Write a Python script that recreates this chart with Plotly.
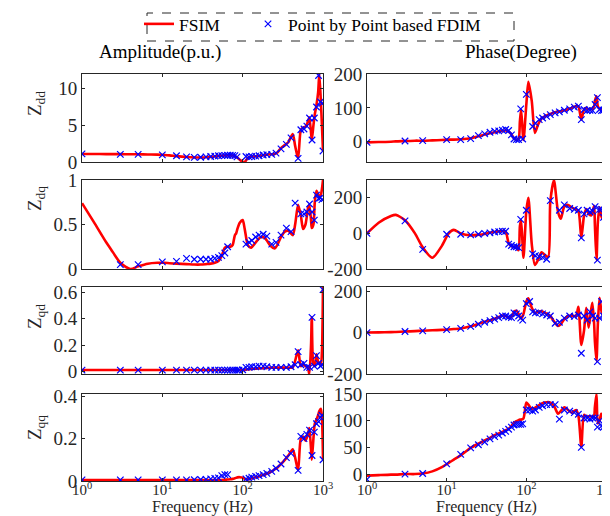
import plotly.graph_objects as go

# ---------------- data ----------------
FREQ_LINE = [1, 1.4, 2, 2.3, 3, 4, 5, 6.6, 8.7, 10.6, 12.3, 15, 20, 25, 30, 35, 40, 45, 50, 55,
             60, 65, 70, 75, 80, 83, 86, 92, 100, 106, 117, 128, 140, 155, 170, 188, 200, 222, 250, 270,
             300, 335, 370, 420, 450, 490, 530, 565, 605, 650, 675, 710, 725, 760, 790, 830, 870, 900, 940, 970,
             1000]
FREQ_PTS = [1, 3, 5, 10, 15, 20, 25, 30, 35, 40, 45, 50, 55, 60, 65, 70, 75, 80, 85, 90,
            100, 110, 120, 130, 145, 160, 180, 200, 230, 260, 300, 350, 400, 450, 490, 530, 580, 630, 680, 730,
            780, 830, 880, 930, 970, 1000]

ZDD_AMP_FSIM = [1.1, 1.1, 1.08, 1.08, 1.07, 1.05, 1.05, 1.02, 1.0, 0.95, 0.9, 0.8, 0.68, 0.62, 0.62, 0.65, 0.7, 0.75, 0.8, 0.85,
                0.88, 0.9, 0.9, 0.88, 0.8, 0.7, 0.6, 0.3, 0.05, 0.02, 0.6, 0.75, 0.75, 0.8, 0.85, 0.95, 1.0, 1.05, 1.1, 1.3,
                1.9, 2.3, 2.7, 3.8, 2.2, 0.5, 4.4, 4.7, 4.8, 5.5, 6.1, 4.0, 3.0, 5.0, 6.5, 7.8, 9.5, 12.0, 8.3, 5.0,
                1.45]
ZDD_AMP_FDIM = [1.1, 1.05, 1.05, 0.98, 0.85, 0.7, 0.62, 0.65, 0.7, 0.75, 0.8, 0.85, 0.88, 0.9, 0.92, 0.92, 0.9, 0.88, 0.7, None,
                None, 0.75, 0.7, 0.75, 0.8, 0.85, 0.95, 1.0, 1.05, 1.2, 1.8, 2.4, 3.3, None, 0.5, 4.4, 4.5, 4.9, 6.0, 3.0,
                6.0, 7.5, 11.8, 8.2, 8.0, 1.5]

ZDD_PH_FSIM = [-2, -1, 0, 1, 2, 3, 3, 4, 5, 6, 6, 7, 10, 16, 21, 25, 28, 30, 32, 33,
               30, 22, 10, 6, 8, 60, 95, 5, 110, 177, 120, 26, 50, 68, 75, 80, 82, 86, 89, 90,
               93, 96, 100, 105, 105, 65, 95, 100, 95, 98, 95, 105, 120, 134, 105, 97, 95, 98, 100, 95,
               -60]
ZDD_PH_FDIM = [-2, 2, 3, 6, 6, 9, 18, 23, 28, 31, 32, 34, 36, 33, 20, 8, 6, 6, 97, 8,
               140, None, 45, 55, 65, 70, 75, 80, 85, 88, 93, 97, 102, 105, 65, 95, 92, 93, 92, 110,
               130, 95, 92, 93, 95, -58]

ZDQ_AMP_FSIM = [0.74, 0.53, 0.3, 0.22, 0.07, 0.0, 0.03, 0.06, 0.07, 0.07, 0.065, 0.06, 0.055, 0.05, 0.05, 0.055, 0.06, 0.07, 0.09, 0.15,
                0.24, 0.25, 0.25, 0.27, 0.38, 0.4, 0.45, 0.52, 0.55, 0.45, 0.26, 0.24, 0.28, 0.33, 0.36, 0.35, 0.32, 0.26, 0.23, 0.27,
                0.36, 0.42, 0.43, 0.38, 0.5, 0.72, 0.6, 0.45, 0.5, 0.68, 0.72, 0.55, 0.46, 0.5, 0.75, 0.88, 0.84, 0.8, 0.83, 0.9,
                1.0]
ZDQ_AMP_FDIM = [None, 0.05, 0.05, 0.08, 0.085, 0.12, 0.11, 0.11, 0.11, 0.11, 0.12, 0.13, 0.15, 0.18, 0.25, None, None, None, None, None,
                None, 0.28, 0.3, 0.32, 0.36, 0.38, 0.39, 0.37, 0.28, 0.3, 0.38, 0.46, 0.42, 0.74, None, 0.62, 0.62, 0.64, 0.73, 0.64,
                0.55, 0.83, 0.79, 0.8, 0.78, None]

ZDQ_PH_FSIM = [0, 60, 98, 104, 74, 0, -78, -137, -70, 0, 20, 0, -11, -8, -3, 5, 8, 12, 14, 10,
               -55, -72, -76, -80, -95, 40, 74, -137, 128, 200, -60, -178, -150, -106, -120, -133, 180, 299, 120, 82,
               150, 160, 146, 135, 128, -25, 100, 137, 110, 101, 120, 155, 50, -151, 60, 146, 100, 82, 140, 119,
               -106]
ZDQ_PH_FDIM = [0, 70, -90, -5, -5, -8, -5, 0, 3, 8, 10, 12, 12, -60, -68, -75, -75, -80, 79, None,
               130, None, -115, -125, -130, -135, -145, 184, None, 130, 160, 140, 135, 130, -25, 110, 130, 120, 125, 150,
               -150, 135, 135, 90, 120, -112]

ZQD_AMP_FSIM = [0.01, 0.01, 0.01, 0.01, 0.01, 0.01, 0.01, 0.01, 0.01, 0.01, 0.01, 0.01, 0.01, 0.01, 0.01, 0.01, 0.01, 0.01, 0.01, 0.01,
                0.01, 0.01, 0.01, 0.01, 0.01, 0.01, 0.01, 0.01, 0.01, 0.012, 0.015, 0.018, 0.02, 0.022, 0.024, 0.025, 0.026, 0.027, 0.028, 0.028,
                0.028, 0.028, 0.028, 0.03, 0.08, 0.16, 0.04, 0.05, 0.04, 0.025, -0.02, 0.2, 0.41, 0.05, 0.04, 0.13, 0.07, 0.06, 0.05, 0.15,
                0.65]
ZQD_AMP_FDIM = [0.01, 0.01, 0.01, 0.01, 0.01, 0.01, 0.01, 0.01, 0.01, 0.01, 0.01, 0.01, 0.01, 0.01, 0.01, 0.01, 0.01, 0.01, 0.01, 0.01,
                0.012, 0.03, 0.03, 0.035, 0.035, 0.04, 0.04, 0.035, 0.03, 0.03, 0.03, 0.03, 0.035, 0.05, 0.15, 0.05, 0.06, 0.03, 0.03, 0.41,
                0.04, 0.12, 0.06, 0.04, 0.05, 0.62]

ZQD_PH_FSIM = [0, 1, 2, 3, 5, 7, 9, 11, 13, 15, 17, 20, 30, 42, 52, 60, 67, 75, 82, 80,
               72, 75, 100, 105, 90, 75, 68, 90, 150, 165, 120, 96, 100, 104, 95, 88, 80, 55, 32, 40,
               65, 80, 82, 80, 125, -60, 10, 120, 24, 110, 144, 40, -40, -136, 40, 168, 110, 88, 152, 120,
               88]
ZQD_PH_FDIM = [0, 5, 8, 14, 20, 30, 40, 50, 58, 65, 72, 80, 80, 75, 72, 95, 90, 80, 70, 60,
               140, 150, 100, 95, 95, 90, 85, 80, 45, 50, 70, 80, 78, 85, -100, 80, 60, 100, 80, 70,
               -140, 70, 150, 80, 75, 70]

ZQQ_AMP_FSIM = [0.005, 0.005, 0.005, 0.005, 0.005, 0.005, 0.005, 0.005, 0.005, 0.005, 0.005, 0.005, 0.005, 0.005, 0.005, 0.005, 0.005, 0.005, 0.005, 0.005,
                0.006, 0.007, 0.008, 0.01, 0.013, 0.015, 0.017, 0.018, 0.016, 0.01, 0.008, 0.012, 0.016, 0.02, 0.025, 0.03, 0.035, 0.042, 0.055, 0.063,
                0.08, 0.1, 0.12, 0.15, 0.11, 0.05, 0.2, 0.21, 0.19, 0.22, 0.25, 0.15, 0.1, 0.2, 0.27, 0.29, 0.31, 0.33, 0.34, 0.3,
                0.1]
ZQQ_AMP_FDIM = [0.005, 0.005, 0.005, 0.005, 0.005, 0.005, 0.006, 0.007, 0.008, 0.01, 0.012, 0.015, 0.025, 0.03, 0.03, None, None, None, None, None,
                None, 0.01, 0.013, 0.018, 0.022, 0.025, 0.03, 0.036, 0.045, 0.06, 0.08, 0.11, 0.13, None, 0.05, 0.21, 0.2, 0.22, 0.24, 0.12,
                0.23, 0.27, 0.28, 0.3, 0.31, 0.1]

ZQQ_PH_FSIM = [-3, -2, -1, -1, 0, 0, 1, 5, 13, 21, 27, 35, 49, 57, 63, 68, 73, 76, 79, 82,
               85, 90, 96, 99, 101, 102, 102, 104, 134, 130, 122, 124, 128, 132, 134, 135, 134, 128, 113, 118,
               125, 120, 115, 120, 110, 51, 111, 108, 108, 108, 108, 110, 125, 150, 95, 100, 113, 108, 105, 108,
               -13]
ZQQ_PH_FDIM = [-10, 0, 1, 19, 37, 49, 55, 60, 66, 70, 73, 77, 80, 84, 88, 92, 93, 93, 93, 94,
               120, 120, 118, 120, 125, 128, 130, 130, 130, 103, 120, 118, 115, 112, 50, 105, 105, 103, 105, 105,
               88, 100, 90, 88, 92, -12]

Y_LABELS = ["Z<sub>dd</sub>", "Z<sub>dq</sub>", "Z<sub>qd</sub>", "Z<sub>qq</sub>"]
X_TICKVALS = [1, 10, 100, 1000]
X_TICKTEXT = ["10<sup>0</sup>", "10<sup>1</sup>", "10<sup>2</sup>", "10<sup>3</sup>"]

# ---------------- layout helpers ----------------
W, H = 610, 516
FONT = "Liberation Serif"
AXC = "#262626"
COL_X = [(74, 315), (359, 598)]
ROW_Y = [(66, 154), (172, 261), (279, 366), (386, 473)]
LABEL_Y = [96, 191, 309, 420]

def fx(p):
    return p / W

def fy(p):
    return 1 - p / H

panels = [
    # row, col, line, points, yrange, tickvals, ticktext
    (0, 0, ZDD_AMP_FSIM, ZDD_AMP_FDIM, [0, 12], [0, 5, 10], ["0", "5", "10"]),
    (0, 1, ZDD_PH_FSIM, ZDD_PH_FDIM, [-60, 200], [0, 100, 200], ["0", "100", "200"]),
    (1, 0, ZDQ_AMP_FSIM, ZDQ_AMP_FDIM, [0, 1], [0, 0.5, 1], ["0", "0.5", "1"]),
    (1, 1, ZDQ_PH_FSIM, ZDQ_PH_FDIM, [-200, 300], [-200, 0, 200], ["-200", "0", "200"]),
    (2, 0, ZQD_AMP_FSIM, ZQD_AMP_FDIM, [-0.02, 0.64], [0, 0.2, 0.4, 0.6], ["0", "0.2", "0.4", "0.6"]),
    (2, 1, ZQD_PH_FSIM, ZQD_PH_FDIM, [-200, 220], [-200, 0, 200], ["-200", "0", "200"]),
    (3, 0, ZQQ_AMP_FSIM, ZQQ_AMP_FDIM, [0, 0.41], [0, 0.2, 0.4], ["0", "0.2", "0.4"]),
    (3, 1, ZQQ_PH_FSIM, ZQQ_PH_FDIM, [-13, 150], [0, 50, 100, 150], ["0", "50", "100", "150"]),
]

fig = go.Figure()
layout = {}
for i, (r, c, line_v, pt_v, yr, tv, tt) in enumerate(panels):
    k = i + 1
    xa = "x" if k == 1 else f"x{k}"
    ya = "y" if k == 1 else f"y{k}"
    fig.add_trace(go.Scatter(
        x=FREQ_LINE, y=line_v, mode="lines", name="FSIM",
        line=dict(color="#FF0000", width=2.6, shape="spline", smoothing=0.7),
        xaxis=xa, yaxis=ya, showlegend=(k == 1), legendwidth=64))
    fig.add_trace(go.Scatter(
        x=FREQ_PTS, y=pt_v, mode="markers", name="Point by Point based FDIM",
        marker=dict(symbol="x-thin", size=6.5, color="#0000FF",
                    line=dict(color="#0000FF", width=1.2)),
        xaxis=xa, yaxis=ya, showlegend=(k == 1)))
    x0, x1 = COL_X[c]
    y0, y1 = ROW_Y[r]
    common = dict(showline=True, linecolor=AXC, linewidth=1, mirror="ticks",
                  ticks="inside", ticklen=3, tickcolor=AXC, tickwidth=1,
                  showgrid=False, zeroline=False)
    layout["xaxis" if k == 1 else f"xaxis{k}"] = dict(
        type="log", range=[0, 3], domain=[fx(x0), fx(x1)], anchor=ya,
        tickvals=X_TICKVALS, ticktext=X_TICKTEXT, showticklabels=(r == 3),
        ticklabelstandoff=-5,
        tickfont=dict(family=FONT, size=15, color=AXC), **common)
    layout["yaxis" if k == 1 else f"yaxis{k}"] = dict(
        range=yr, domain=[fy(y1), fy(y0)], anchor=xa,
        tickvals=tv, ticktext=tt,
        tickfont=dict(family=FONT, size=19, color=AXC), **common)

annotations = []
for r in range(4):
    annotations.append(dict(text=Y_LABELS[r], x=fx(28), y=fy(LABEL_Y[r]), xref="paper", yref="paper",
                            showarrow=False, textangle=-90, xanchor="center", yanchor="middle",
                            font=dict(family=FONT, size=19, color=AXC)))
annotations.append(dict(text="Amplitude(p.u.)", x=fx(152), y=fy(44), xref="paper", yref="paper",
                        showarrow=False, xanchor="center", yanchor="middle",
                        font=dict(family=FONT, size=19, color="#000000")))
annotations.append(dict(text="Phase(Degree)", x=fx(513), y=fy(44), xref="paper", yref="paper",
                        showarrow=False, xanchor="center", yanchor="middle",
                        font=dict(family=FONT, size=19, color="#000000")))
for c in range(2):
    cx = (COL_X[c][0] + COL_X[c][1]) / 2
    annotations.append(dict(text="Frequency (Hz)", x=fx(cx), y=fy(499), xref="paper", yref="paper",
                            showarrow=False, xanchor="center", yanchor="middle",
                            font=dict(family=FONT, size=16, color=AXC)))

shapes = [dict(type="rect", xref="paper", yref="paper", x0=fx(139), x1=fx(506), y0=fy(33), y1=fy(5),
               line=dict(color=AXC, width=1, dash="dash"), fillcolor="rgba(0,0,0,0)")]

fig.update_layout(
    width=W, height=H, margin=dict(l=0, r=0, t=0, b=0, autoexpand=False),
    paper_bgcolor="white", plot_bgcolor="white",
    font=dict(family=FONT, color=AXC),
    showlegend=True,
    legend=dict(orientation="h", x=fx(131), y=fy(16), xanchor="left", yanchor="middle",
                bgcolor="rgba(0,0,0,0)", borderwidth=0,
                font=dict(family=FONT, size=17.5, color="#000000"), traceorder="normal"),
    annotations=annotations, shapes=shapes,
    **layout)

fig.write_html("out.html")
